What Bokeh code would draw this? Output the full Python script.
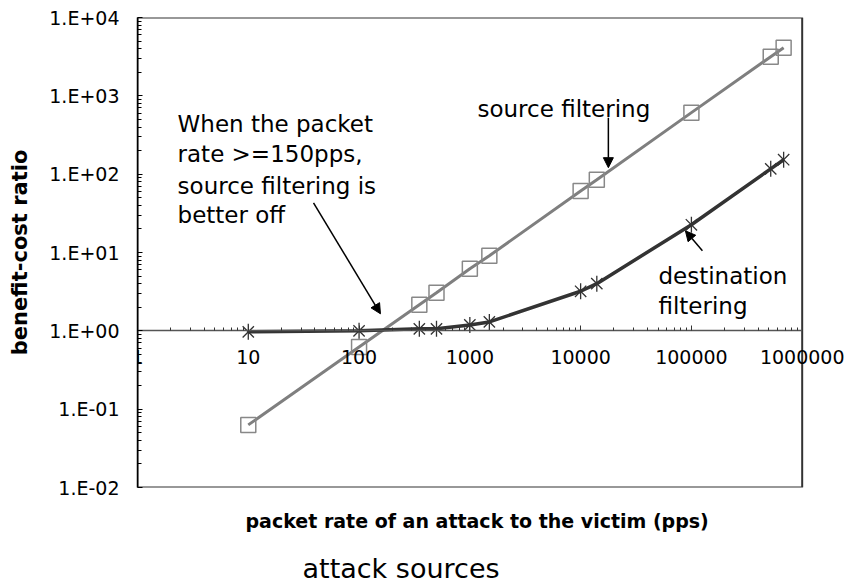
import math
from bokeh.plotting import figure
from bokeh.models import FixedTicker, CustomJSTickFormatter, Label, Arrow, NormalHead, Title
from bokeh.embed import file_html
from bokeh.resources import INLINE

# ---- data ----
rate = [10, 100, 350, 500, 1000, 1500, 10000, 14000, 100000, 520000, 680000]
source_ratio = [0.063, 0.62, 2.15, 3.06, 6.2, 9.1, 61, 85, 610, 3160, 4100]
dest_ratio = [0.97, 1.0, 1.06, 1.06, 1.19, 1.3, 3.2, 4.0, 22.6, 117, 153]

x_ticks = [1, 10, 100, 1000, 10000, 100000, 1000000]
x_tick_labels = ["1", "10", "100", "1000", "10000", "100000", "1000000"]
y_ticks = [0.01, 0.1, 1, 10, 100, 1000, 10000]
y_tick_labels = ["1.E-02", "1.E-01", "1.E+00", "1.E+01", "1.E+02", "1.E+03", "1.E+04"]

callout_lines = ["When the packet", "rate >=150pps,", "source filtering is", "better off"]
dest_lines = ["destination", "filtering"]

FONT = "DejaVu Sans"
TICK_FONT_SIZE = "19px"


def minor_of(ticks):
    out = []
    for t in ticks[:-1]:
        out += [m * t for m in range(2, 10)]
    return out


def label_formatter(tick_vals, tick_labels):
    return CustomJSTickFormatter(args=dict(tvals=tick_vals, tlabels=tick_labels), code="""
        let best = 0, bd = Infinity;
        for (let i = 0; i < tvals.length; i++) {
            const d = Math.abs(Math.log10(tick) - Math.log10(tvals[i]));
            if (d < bd) { bd = d; best = i; }
        }
        return tlabels[best];
    """)


# frame extends a little past 1e6 so the last tick label is not clipped;
# the plot box itself is drawn at the axis limits below
p = figure(width=846, height=587, x_axis_type="log", y_axis_type="log",
           x_range=(x_ticks[0], 10 ** 6.4), y_range=(y_ticks[0], y_ticks[-1]),
           output_backend="svg", toolbar_location=None,
           min_border_left=137, min_border_right=0, min_border_top=17, min_border_bottom=100)
p.xgrid.visible = False
p.ygrid.visible = False
p.outline_line_color = None
p.background_fill_color = "white"
p.border_fill_color = "white"

# plot box
p.quad(left=[x_ticks[0]], right=[x_ticks[-1]], bottom=[y_ticks[0]], top=[y_ticks[-1]],
       fill_color=None, line_color="#333333", line_width=2)

# x axis crossing at y = 1
xa = p.xaxis[0]
xa.fixed_location = 1
xa.bounds = (x_ticks[0], x_ticks[-1])
xa.ticker = FixedTicker(ticks=x_ticks, minor_ticks=minor_of(x_ticks))
xa.formatter = label_formatter(x_ticks, x_tick_labels)
xa.axis_line_color = "#555555"
xa.axis_line_width = 1.5
xa.major_tick_in = 5
xa.major_tick_out = 0
xa.minor_tick_in = 3
xa.minor_tick_out = 0
xa.major_tick_line_color = "#333333"
xa.minor_tick_line_color = "#333333"
xa.major_label_standoff = 19
xa.major_label_text_font = FONT
xa.major_label_text_font_size = TICK_FONT_SIZE
xa.major_label_text_color = "black"

ya = p.yaxis[0]
ya.ticker = FixedTicker(ticks=y_ticks, minor_ticks=minor_of(y_ticks))
ya.formatter = label_formatter(y_ticks, y_tick_labels)
ya.axis_line_color = "black"
ya.axis_line_width = 1.5
ya.major_tick_in = 5
ya.major_tick_out = 0
ya.minor_tick_in = 4
ya.minor_tick_out = 0
ya.major_tick_line_color = "black"
ya.minor_tick_line_color = "black"
ya.major_label_standoff = 18
ya.major_label_text_font = FONT
ya.major_label_text_font_size = TICK_FONT_SIZE
ya.major_label_text_color = "black"
ya.axis_label = "benefit-cost ratio"
ya.axis_label_text_font = FONT
ya.axis_label_text_font_style = "bold"
ya.axis_label_text_font_size = "21px"
ya.axis_label_text_color = "black"
ya.axis_label_standoff = 14

# series
p.line(rate, source_ratio, line_color="#7f7f7f", line_width=3)
p.scatter(rate, source_ratio, marker="square", size=15, fill_color=None,
          line_color="#888888", line_width=1.5)
p.line(rate, dest_ratio, line_color="#333333", line_width=3.5)
p.scatter(rate, dest_ratio, marker="x", size=16, line_color="#333333", line_width=1.3)
p.scatter(rate, dest_ratio, marker="dash", size=16, angle=math.pi / 2,
          line_color="#333333", line_width=1.3)

# annotations
def add_text(x, y, text, size="23px", style="normal", align="left"):
    p.add_layout(Label(x=x, y=y, text=text, text_font=FONT, text_font_size=size,
                       text_font_style=style, text_align=align,
                       text_baseline="alphabetic", text_color="black"))


add_text(1172, 684, "source filtering")
for yy, t in zip([440, 182, 71, 30.3], callout_lines):
    add_text(2.30, yy, t)
for yy, t in zip([5.04, 2.08], dest_lines):
    add_text(50400, yy, t)


def add_arrow(x0, y0, x1, y1):
    p.add_layout(Arrow(end=NormalHead(size=10, fill_color="black", line_color="black"),
                       x_start=x0, y_start=y0, x_end=x1, y_end=y1,
                       line_color="black", line_width=1.5))


add_arrow(17800, 525, 17800, 121)
add_arrow(125700, 10.5, 88300, 18.9)
add_arrow(38.8, 43.1, 156, 1.65)

# axis titles under the plot
p.add_layout(Title(text="packet rate of an attack to the victim (pps)", align="left", offset=108,
                   text_font=FONT, text_font_size="19px", text_font_style="bold",
                   text_color="black", standoff=41, vertical_align="bottom"), "below")
p.add_layout(Title(text="attack sources", align="left", offset=165,
                   text_font=FONT, text_font_size="27px", text_font_style="normal",
                   text_color="black", standoff=0, vertical_align="top"), "below")

open("out.html", "w").write(file_html(p, INLINE))
